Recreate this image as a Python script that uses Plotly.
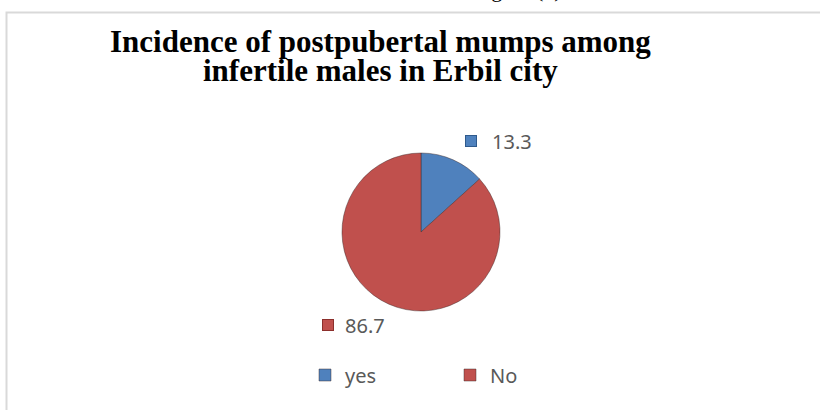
import plotly.graph_objects as go

labels = ["yes", "No"]
values = [13.3, 86.7]
colors = ["#4F81BD", "#C0504D"]
edge_colors = ["#2F5A8C", "#8C2F2C"]
title_lines = ["Incidence of postpubertal mumps among", "infertile males in Erbil city"]
caption = "Figure (1)"

W, H = 820, 410

def px(x):
    return x / W

def py(y):
    return 1 - y / H

fig = go.Figure(go.Pie(
    labels=labels,
    values=values,
    sort=False,
    direction="clockwise",
    rotation=0,
    marker=dict(colors=colors, line=dict(color="rgba(60,40,40,0.45)", width=1)),
    textinfo="none",
    hoverinfo="label+value",
    domain=dict(x=[px(342), px(500)], y=[py(311), py(153)]),
))

# data label placement (marker centre x, text left x, centre y)
label_pos = [(471, 490, 141), (328, 343, 325)]

annotations = [
    dict(text=f"<b>{title_lines[0]}</b>", x=px(380), y=py(42), xref="paper", yref="paper",
         xanchor="center", yanchor="middle", showarrow=False,
         font=dict(family="Liberation Serif", size=31, color="black")),
    dict(text=f"<b>{title_lines[1]}</b>", x=px(380), y=py(70), xref="paper", yref="paper",
         xanchor="center", yanchor="middle", showarrow=False,
         font=dict(family="Liberation Serif", size=31, color="black")),
    dict(text=caption, x=px(517), y=py(-10), xref="paper", yref="paper",
         xanchor="center", yanchor="middle", showarrow=False,
         font=dict(family="Liberation Serif", size=22, color="black")),
]
for v, c, ec, (mx, tx, cy) in zip(values, colors, edge_colors, label_pos):
    annotations.append(dict(
        text=" ", x=px(mx), y=py(cy), xref="paper", yref="paper",
        xanchor="center", yanchor="middle", showarrow=False,
        width=10, height=10, bgcolor=c, bordercolor=ec, borderwidth=1, borderpad=0,
        font=dict(size=4),
    ))
    annotations.append(dict(
        text=f"{v}", x=px(tx), y=py(cy), xref="paper", yref="paper",
        xanchor="left", yanchor="middle", showarrow=False,
        font=dict(family="Noto Sans", size=20, color="#595959"),
    ))

fig.update_layout(
    width=W, height=H,
    margin=dict(l=0, r=0, t=0, b=0),
    paper_bgcolor="white",
    plot_bgcolor="white",
    showlegend=True,
    legend=dict(
        orientation="h",
        x=px(305), y=py(375), xanchor="left", yanchor="middle",
        font=dict(family="Noto Sans", size=20, color="#595959"),
        entrywidth=100,
        traceorder="normal",
    ),
    shapes=[dict(
        type="rect", xref="paper", yref="paper",
        x0=px(6.5), x1=1.2, y0=-0.2, y1=py(12.5),
        line=dict(color="#D9D9D9", width=2), fillcolor="rgba(0,0,0,0)",
    )],
    annotations=annotations,
)

fig.write_html("out.html")
